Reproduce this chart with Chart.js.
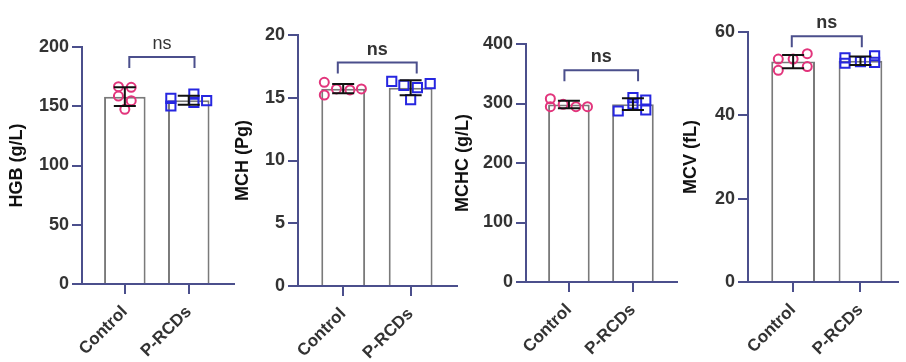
<!DOCTYPE html>
<html>
<head>
<meta charset="utf-8">
<script src="https://cdn.jsdelivr.net/npm/chart.js@4/dist/chart.umd.min.js"></script>
<style>
  html, body { margin: 0; padding: 0; background: #fff; width: 906px; height: 362px; overflow: hidden; }
  canvas { position: absolute; top: 0; }
</style>
</head>
<body>
<canvas id="hgb" width="242" height="362" style="left:0px"></canvas>
<canvas id="mch" width="233" height="362" style="left:232px"></canvas>
<canvas id="mchc" width="233" height="362" style="left:452px"></canvas>
<canvas id="mcv" width="232" height="362" style="left:674px"></canvas>
<script>
// groups
const categories = ['Control', 'P-RCDs'];

// HGB (g/L)
const hgbMean = [158.1, 155.0];
const hgbSd = [7.9, 3.8];
const hgbControl = [166.5, 166.0, 158.6, 154.7, 147.4];
const hgbPrcds = [156.7, 150.2, 160.3, 153.3, 154.7];
const hgbControlJitter = [-0.10, 0.10, -0.10, 0.10, 0.0];
const hgbPrcdsJitter = [-0.28, -0.28, 0.08, 0.08, 0.28];
const hgbTicks = [0, 50, 100, 150, 200];

// MCH (Pg)
const mchMean = [15.72, 15.80];
const mchSd = [0.37, 0.60];
const mchControl = [16.23, 15.22, 15.70, 15.62, 15.70];
const mchPrcds = [16.31, 15.99, 14.85, 15.81, 16.13];
const mchControlJitter = [-0.28, -0.28, -0.10, 0.10, 0.27];
const mchPrcdsJitter = [-0.28, -0.10, 0.0, 0.10, 0.29];
const mchTicks = [0, 5, 10, 15, 20];

// MCHC (g/L)
const mchcMean = [298.3, 298.9];
const mchcSd = [6.4, 9.8];
const mchcControl = [308.0, 294.6, 298.6, 294.6, 294.6];
const mchcPrcds = [287.4, 309.8, 299.2, 305.9, 289.1];
const mchcControlJitter = [-0.29, -0.29, -0.09, 0.11, 0.29];
const mchcPrcdsJitter = [-0.23, 0.0, 0.0, 0.20, 0.20];
const mchcTicks = [0, 100, 200, 300, 400];

// MCV (fL)
const mcvMean = [52.9, 53.1];
const mcvSd = [1.6, 1.0];
const mcvControl = [53.5, 53.5, 54.8, 50.8, 51.7];
const mcvPrcds = [53.8, 52.5, 52.9, 54.3, 52.7];
const mcvControlJitter = [-0.22, 0.0, 0.21, -0.22, 0.21];
const mcvPrcdsJitter = [-0.23, -0.23, 0.0, 0.21, 0.21];
const mcvTicks = [0, 20, 40, 60];

const axisColor = '#4b4f8c';
const textColor = '#333';
Chart.defaults.font.family = "'Liberation Sans', Arial, sans-serif";
Chart.defaults.color = textColor;

// error bars + "ns" bracket
const overlay = {
  id: 'overlay',
  afterDatasetsDraw(chart, args, o) {
    const ctx = chart.ctx, xs = chart.scales.x, ys = chart.scales.y;
    ctx.save();
    ctx.strokeStyle = '#111';
    ctx.lineWidth = 2;
    o.mean.forEach((m, i) => {
      const x = xs.getPixelForValue(i);
      const t = ys.getPixelForValue(m + o.sd[i]);
      const b = ys.getPixelForValue(m - o.sd[i]);
      ctx.beginPath();
      ctx.moveTo(x, t); ctx.lineTo(x, b);
      ctx.moveTo(x - 11, t); ctx.lineTo(x + 11, t);
      ctx.moveTo(x - 11, b); ctx.lineTo(x + 11, b);
      ctx.stroke();
    });
    const x1 = xs.getPixelForValue(o.bracket[0]);
    const x2 = xs.getPixelForValue(o.bracket[1]);
    const yb = ys.getPixelForValue(o.bracket[2]);
    ctx.strokeStyle = axisColor;
    ctx.beginPath();
    ctx.moveTo(x1, yb + 11); ctx.lineTo(x1, yb); ctx.lineTo(x2, yb); ctx.lineTo(x2, yb + 11);
    ctx.stroke();
    ctx.fillStyle = textColor;
    ctx.font = (o.bold ? 'bold ' : '') + "18px 'Liberation Sans', Arial, sans-serif";
    ctx.textAlign = 'center';
    ctx.textBaseline = 'alphabetic';
    ctx.fillText('ns', (x1 + x2) / 2, yb - 8);
    ctx.restore();
  }
};

function panel(id, p) {
  const pts = (vals, jit, g) => vals.map((v, i) => ({ x: g + jit[i], y: v }));
  new Chart(document.getElementById(id), {
    type: 'bar',
    data: {
      datasets: [
        {
          type: 'scatter',
          data: pts(p.control, p.controlJitter, 0),
          pointStyle: 'circle', pointRadius: 4.5, pointBorderWidth: 2,
          borderColor: '#e2357c', backgroundColor: 'rgba(255,255,255,0)',
          order: 0
        },
        {
          type: 'scatter',
          data: pts(p.prcds, p.prcdsJitter, 1),
          pointStyle: 'rect', pointRadius: 6.5, pointBorderWidth: 2,
          borderColor: '#2626e0', backgroundColor: 'rgba(255,255,255,0)',
          order: 0
        },
        {
          type: 'bar',
          data: p.mean.map((m, i) => ({ x: i, y: m })),
          backgroundColor: '#fff', borderColor: '#7a7a7a', borderWidth: 2,
          categoryPercentage: 1, barPercentage: 0.65,
          order: 2
        }
      ]
    },
    options: {
      responsive: false,
      animation: false,
      layout: { padding: { top: p.area.top, left: 0, right: 0, bottom: 0 } },
      plugins: {
        legend: { display: false },
        tooltip: { enabled: false },
        overlay: { mean: p.mean, sd: p.sd, bracket: p.bracket, bold: p.bold }
      },
      scales: {
        x: {
          type: 'linear', offset: false,
          min: -0.67, max: p.xMax,
          afterBuildTicks: s => { s.ticks = [{ value: 0 }, { value: 1 }]; },
          afterFit: s => { s.height = 362 - p.area.bottom; s.paddingRight = 0; s.paddingLeft = 0; },
          ticks: {
            callback: v => categories[v],
            minRotation: 45, maxRotation: 45, padding: 8,
            font: { size: 17, weight: 'bold' }, color: textColor
          },
          grid: { offset: false, drawOnChartArea: false, drawTicks: true, tickLength: 10, color: axisColor, lineWidth: 2 },
          border: { color: axisColor, width: 2 }
        },
        y: {
          min: 0, max: p.ticks[p.ticks.length - 1],
          afterBuildTicks: s => { s.ticks = p.ticks.map(v => ({ value: v })); },
          afterFit: s => { s.width = p.area.left; },
          ticks: { padding: 3, font: { size: 18, weight: 'bold' }, color: textColor },
          grid: { drawOnChartArea: false, drawTicks: true, tickLength: 10, color: axisColor, lineWidth: 2 },
          border: { color: axisColor, width: 2 },
          title: {
            display: true, text: p.title, color: '#111',
            font: { size: 18, weight: 'bold' },
            padding: { top: p.titlePad, bottom: 0 }
          }
        }
      }
    },
    plugins: [overlay]
  });
}

panel('hgb', {
  area: { left: 82, top: 47, bottom: 284 }, xMax: 1.70, title: 'HGB (g/L)', titlePad: 6, bold: false,
  mean: hgbMean, sd: hgbSd, control: hgbControl, prcds: hgbPrcds,
  controlJitter: hgbControlJitter, prcdsJitter: hgbPrcdsJitter, ticks: hgbTicks,
  bracket: [0.07, 1.09, 191.6]
});
panel('mch', {
  area: { left: 66, top: 35, bottom: 286 }, xMax: 1.68, title: 'MCH (Pg)', titlePad: 0, bold: true,
  mean: mchMean, sd: mchSd, control: mchControl, prcds: mchPrcds,
  controlJitter: mchControlJitter, prcdsJitter: mchPrcdsJitter, ticks: mchTicks,
  bracket: [-0.08, 1.09, 17.8]
});
panel('mchc', {
  area: { left: 74, top: 44, bottom: 282 }, xMax: 1.68, title: 'MCHC (g/L)', titlePad: 0, bold: true,
  mean: mchcMean, sd: mchcSd, control: mchcControl, prcds: mchcPrcds,
  controlJitter: mchcControlJitter, prcdsJitter: mchcPrcdsJitter, ticks: mchcTicks,
  bracket: [-0.07, 1.08, 356]
});
panel('mcv', {
  area: { left: 74, top: 32, bottom: 282 }, xMax: 1.55, title: 'MCV (fL)', titlePad: 6, bold: true,
  mean: mcvMean, sd: mcvSd, control: mcvControl, prcds: mcvPrcds,
  controlJitter: mcvControlJitter, prcdsJitter: mcvPrcdsJitter, ticks: mcvTicks,
  bracket: [-0.02, 1.02, 59]
});
</script>
</body>
</html>
